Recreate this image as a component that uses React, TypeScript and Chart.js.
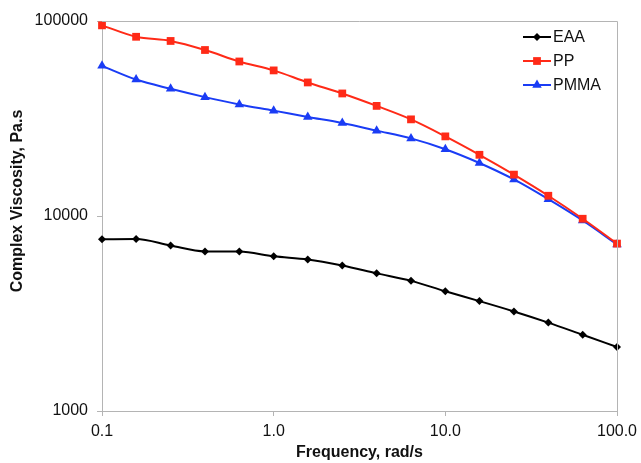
import React, { useEffect, useRef } from "react";
import { Chart, registerables } from "chart.js";

Chart.register(...registerables);

const frequencies = [0.1, 0.158, 0.251, 0.398, 0.631, 1.0, 1.58, 2.51, 3.98, 6.31, 10.0, 15.8, 25.1, 39.8, 63.1, 100.0];
const eaa = [7600, 7620, 7050, 6580, 6570, 6210, 5990, 5570, 5080, 4650, 4110, 3660, 3240, 2840, 2460, 2130];
const pp = [95000, 83000, 79000, 71000, 62000, 55800, 48400, 42500, 36700, 31300, 25600, 20600, 16300, 12700, 9680, 7220];
const pmma = [58900, 50100, 44900, 40700, 37300, 34700, 32200, 30000, 27400, 25000, 22000, 18700, 15400, 12200, 9480, 7150];

const xTickValues = [0.1, 1, 10, 100];
const xTickLabels = ["0.1", "1.0", "10.0", "100.0"];
const yTickValues = [1000, 10000, 100000];
const yTickLabels = ["1000", "10000", "100000"];

const xTitle = "Frequency, rad/s";
const yTitle = "Complex Viscosity, Pa.s";

const seriesNames = ["EAA", "PP", "PMMA"];
const seriesColors = ["#000000", "#ff2a17", "#1a3cf5"];
const seriesMarkers = ["rectRot", "rect", "triangle"];
const markerRadii = [4, 5.5, 5.5];

const FONT = "'Liberation Sans', Arial, Helvetica, sans-serif";

function drawMarker(ctx: CanvasRenderingContext2D, style: string, x: number, y: number, r: number) {
  ctx.beginPath();
  if (style === "rect") {
    const s = Math.SQRT1_2 * r;
    ctx.rect(x - s, y - s, 2 * s, 2 * s);
  } else if (style === "rectRot") {
    ctx.moveTo(x - r, y);
    ctx.lineTo(x, y + r);
    ctx.lineTo(x + r, y);
    ctx.lineTo(x, y - r);
    ctx.closePath();
  } else {
    ctx.moveTo(x - (Math.sqrt(3) * r) / 2, y + r / 2);
    ctx.lineTo(x + (Math.sqrt(3) * r) / 2, y + r / 2);
    ctx.lineTo(x, y - r);
    ctx.closePath();
  }
  ctx.fill();
}

const framePlugin = {
  id: "frame",
  afterDatasetsDraw(chart: any) {
    const { ctx, chartArea } = chart;
    ctx.save();
    ctx.strokeStyle = "#b4b4b4";
    ctx.lineWidth = 1;
    ctx.beginPath();
    ctx.moveTo(chartArea.left, chartArea.top + 0.5);
    ctx.lineTo(chartArea.right + 0.5, chartArea.top + 0.5);
    ctx.lineTo(chartArea.right + 0.5, chartArea.bottom);
    ctx.stroke();
    ctx.restore();
  },
  afterDraw(chart: any) {
    const { ctx, chartArea } = chart;
    ctx.save();
    // y axis title
    ctx.translate(18, (chartArea.top + chartArea.bottom) / 2 - 15);
    ctx.rotate(-Math.PI / 2);
    ctx.fillStyle = "#111111";
    ctx.font = `bold 16px ${FONT}`;
    ctx.textAlign = "center";
    ctx.textBaseline = "middle";
    ctx.fillText(yTitle, 0, 0);
    ctx.restore();

    ctx.save();
    const x0 = chartArea.right - 94;
    const y0 = chartArea.top + 16;
    seriesNames.forEach((name, i) => {
      const y = y0 + i * 24;
      ctx.strokeStyle = seriesColors[i];
      ctx.fillStyle = seriesColors[i];
      ctx.lineWidth = 2;
      ctx.beginPath();
      ctx.moveTo(x0, y);
      ctx.lineTo(x0 + 28, y);
      ctx.stroke();
      drawMarker(ctx, seriesMarkers[i], x0 + 14, y, markerRadii[i]);
      ctx.fillStyle = "#111111";
      ctx.font = `16px ${FONT}`;
      ctx.textBaseline = "middle";
      ctx.textAlign = "left";
      ctx.fillText(name, x0 + 30, y + 1);
    });
    ctx.restore();
  },
};

export default function App() {
  const canvasRef = useRef<HTMLCanvasElement | null>(null);

  useEffect(() => {
    document.body.style.margin = "0";
    const canvas = canvasRef.current;
    if (!canvas) return;
    const datasets = [eaa, pp, pmma].map((vals, i) => ({
      label: seriesNames[i],
      data: frequencies.map((f, j) => ({ x: f, y: vals[j] })),
      borderColor: seriesColors[i],
      backgroundColor: seriesColors[i],
      borderWidth: 2,
      pointStyle: seriesMarkers[i] as any,
      pointRadius: markerRadii[i],
      pointBorderWidth: 0,
      pointBackgroundColor: seriesColors[i],
      cubicInterpolationMode: "monotone" as const,
      tension: 0.3,
      clip: false as any,
    }));
    const chart = new Chart(canvas, {
      type: "line",
      data: { datasets },
      options: {
        animation: false,
        responsive: false,
        maintainAspectRatio: false,
        layout: { padding: { left: 0, top: 21, right: 24, bottom: 0 } },
        plugins: { legend: { display: false }, tooltip: { enabled: false } },
        scales: {
          x: {
            type: "logarithmic",
            min: 0.1,
            max: 100,
            afterBuildTicks: (scale: any) => {
              scale.ticks = xTickValues.map((v) => ({ value: v }));
            },
            afterFit: (scale: any) => {
              scale.height = 52;
              scale.paddingRight = 0;
              scale.paddingLeft = 0;
            },
            ticks: {
              autoSkip: false,
              maxRotation: 0,
              padding: 6,
              color: "#111111",
              font: { family: FONT, size: 16 },
              callback: (v: any) => {
                const idx = xTickValues.findIndex((t) => Math.abs(t - Number(v)) < 1e-9);
                return idx >= 0 ? xTickLabels[idx] : "";
              },
            },
            grid: { display: true, drawOnChartArea: false, drawTicks: true, tickLength: 5, color: "#b4b4b4" },
            border: { display: true, color: "#b4b4b4", width: 1 },
            title: {
              display: true,
              text: xTitle,
              color: "#111111",
              font: { family: FONT, size: 16, weight: "bold" },
              padding: { top: 0, bottom: 1 },
            },
          },
          y: {
            type: "logarithmic",
            min: 1000,
            max: 100000,
            afterBuildTicks: (scale: any) => {
              scale.ticks = yTickValues.map((v) => ({ value: v }));
            },
            afterFit: (scale: any) => {
              scale.width = 102;
            },
            ticks: {
              autoSkip: false,
              padding: 9,
              color: "#111111",
              font: { family: FONT, size: 16 },
              callback: (v: any) => {
                const idx = yTickValues.findIndex((t) => Math.abs(t - Number(v)) < 1e-6);
                return idx >= 0 ? yTickLabels[idx] : "";
              },
            },
            grid: { display: true, drawOnChartArea: false, drawTicks: true, tickLength: 5, color: "#b4b4b4" },
            border: { display: true, color: "#b4b4b4", width: 1 },
            title: { display: false },
          },
        },
      },
      plugins: [framePlugin],
    });
    return () => chart.destroy();
  }, []);

  return (
    <div style={{ width: 641, height: 463, background: "#ffffff" }}>
      <canvas ref={canvasRef} width={641} height={463} style={{ display: "block" }} />
    </div>
  );
}
